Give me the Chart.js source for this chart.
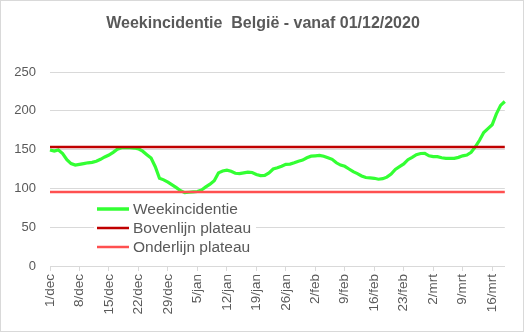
<!DOCTYPE html>
<html>
<head>
<meta charset="utf-8">
<script src="https://cdn.jsdelivr.net/npm/chart.js@4"></script>
<style>
  body { margin: 0; background: #fff; }
  canvas { display: block; }
</style>
</head>
<body>
<canvas id="myChart" width="524" height="332"></canvas>
<script>
// Dagen per maand (1/dec 2020 t.e.m. 19/mrt 2021)
const maanden = ['dec', 'jan', 'feb', 'mrt'];
const dagenPerMaand = [31, 31, 28, 19];

// Weekincidentie per dag
const weekincidentie = [
    149.5, 148, 149.5, 145, 137, 132, 130, 131, 132, 133,
    133.5, 135, 137.5, 140.5, 143, 146.5, 150.5, 152.5, 152.5, 152.5,
    152, 151, 148, 143.5, 139, 128, 113, 111, 108, 104.5,
    101, 97, 94.5, 95, 95.5, 96, 98, 102, 105.5, 110,
    120, 122.5, 123.5, 122, 119.5, 119, 120, 121, 120.5, 118,
    116.5, 116.8, 120, 125, 126.5, 128.5, 131, 131.3, 133, 135,
    136.5, 139.5, 141.5, 142, 142.6, 141.5, 139.5, 137.5, 133, 130,
    128.5, 125, 121.5, 119, 116, 114, 113.5, 113, 111.8, 112.5,
    114.5, 118.5, 124.5, 128, 131.5, 137, 140, 143.5, 145, 145.2,
    142, 141, 141, 139.5, 138.8, 138.8, 138.8, 140, 142, 143,
    146.5, 153.5, 162, 172, 177, 182, 196, 207, 212
];

const bovenlijn = 153.5;
const onderlijn = 95.5;

const yTicks = [0, 50, 100, 150, 200, 250];

const titel = 'Weekincidentie  België - vanaf 01/12/2020';

const labels = [];
maanden.forEach((m, i) => {
    for (let d = 1; d <= dagenPerMaand[i]; d++) labels.push(d + '/' + m);
});

const grijs = '#595959';
const rasterKleur = '#d9d9d9';
const lettertype = '"Liberation Sans", Arial, sans-serif';

// Titel en legende zelf tekenen (zoals in Excel)
const legendePlugin = {
    id: 'legende',
    afterDraw(chart) {
        const c = chart.ctx;
        c.save();
        // titel
        c.fillStyle = grijs;
        c.font = 'bold 16px ' + lettertype;
        c.textAlign = 'center';
        c.textBaseline = 'middle';
        c.fillText(titel, 263, 24);

        // legende binnen het grafiekgebied
        c.textAlign = 'left';
        c.fillStyle = '#fff';
        c.fillRect(94, 199, 162, 58);
        const items = [
            { tekst: 'Weekincidentie', kleur: '#33FF33', breedte: 3.5, y: 209 },
            { tekst: 'Bovenlijn plateau', kleur: '#C00000', breedte: 2.5, y: 228 },
            { tekst: 'Onderlijn plateau', kleur: '#FF5050', breedte: 2.5, y: 247 }
        ];
        c.font = '15.5px ' + lettertype;
        items.forEach(it => {
            c.strokeStyle = it.kleur;
            c.lineWidth = it.breedte;
            c.beginPath();
            c.moveTo(97, it.y);
            c.lineTo(129, it.y);
            c.stroke();
            c.fillStyle = grijs;
            c.fillText(it.tekst, 133, it.y + 1);
        });
        // rand van de grafiek
        c.strokeStyle = rasterKleur;
        c.lineWidth = 1;
        c.strokeRect(0.5, 0.5, 523, 331);
        c.restore();
    }
};

const myChart = new Chart(document.getElementById('myChart').getContext('2d'), {
    type: 'line',
    data: {
        labels: labels,
        datasets: [
            {
                label: 'Onderlijn plateau',
                data: [{ x: labels[0], y: onderlijn }, { x: labels[labels.length - 1], y: onderlijn }],
                borderColor: '#FF5050',
                borderWidth: 2.5,
                pointRadius: 0
            },
            {
                label: 'Bovenlijn plateau',
                data: [{ x: labels[0], y: bovenlijn }, { x: labels[labels.length - 1], y: bovenlijn }],
                borderColor: '#C00000',
                borderWidth: 2.5,
                pointRadius: 0
            },
            {
                label: 'Weekincidentie',
                data: weekincidentie,
                borderColor: '#33FF33',
                borderWidth: 3.2,
                pointRadius: 0,
                tension: 0
            }
        ]
    },
    options: {
        responsive: false,
        animation: false,
        devicePixelRatio: 1,
        layout: { padding: { left: 0, right: 18, top: 72, bottom: 0 } },
        plugins: {
            legend: { display: false },
            tooltip: { enabled: false },
            title: { display: false }
        },
        scales: {
            x: {
                offset: false,
                grid: {
                    drawOnChartArea: false,
                    drawTicks: true,
                    tickLength: 5,
                    color: ctx => (ctx.index % 7 === 0 ? rasterKleur : 'rgba(0,0,0,0)')
                },
                border: { display: true, color: rasterKleur },
                ticks: {
                    autoSkip: false,
                    minRotation: 90,
                    maxRotation: 90,
                    padding: 3,
                    color: grijs,
                    font: { family: lettertype, size: 13.5 },
                    callback: (val, i) => (i % 7 === 0 ? labels[i] : '')
                },
                afterFit: scale => { scale.height = 66; }
            },
            y: {
                min: 0,
                max: 250,
                afterBuildTicks: scale => { scale.ticks = yTicks.map(v => ({ value: v })); },
                grid: { color: rasterKleur, drawTicks: false },
                border: { display: false },
                ticks: {
                    padding: 14,
                    color: grijs,
                    font: { family: lettertype, size: 13 }
                },
                afterFit: scale => { scale.width = 50; }
            }
        }
    },
    plugins: [legendePlugin]
});
</script>
</body>
</html>
